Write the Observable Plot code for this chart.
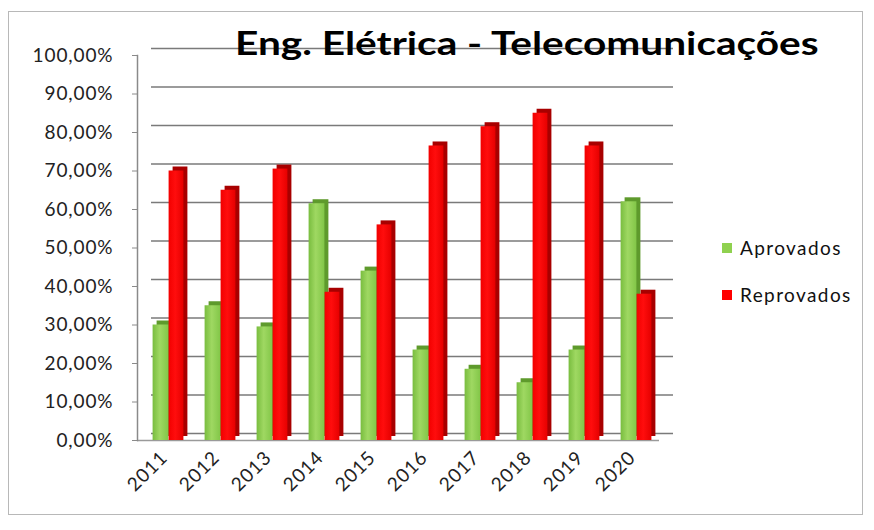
<!DOCTYPE html>
<html>
<head>
<meta charset="utf-8">
<script src="https://cdn.jsdelivr.net/npm/d3@7"></script>
<script src="https://cdn.jsdelivr.net/npm/@observablehq/plot@0.6"></script>
<style>
  html, body { margin: 0; padding: 0; background: #fff; }
  #wrap { position: relative; width: 874px; height: 530px; font-family: Lato, "Open Sans", sans-serif; }
  #border { position: absolute; left: 8px; top: 11px; width: 855px; height: 504px; border: 1.5px solid #b8b8b8; box-sizing: border-box; pointer-events: none; }
  #title { position: absolute; left: 235px; top: 22px; font-size: 33px; font-weight: 700; color: #000; white-space: nowrap; transform: scaleX(1.23); transform-origin: 0 0; }
  .leg { position: absolute; left: 722px; font-size: 19px; color: #111; display: flex; align-items: center; white-space: nowrap; letter-spacing: 1.4px; }
  .sw { width: 10px; height: 10px; margin-right: 8px; }
  #chart { position: absolute; left: 0; top: 0; }
  #chart svg text { letter-spacing: 0.9px; }
</style>
</head>
<body>
<div id="wrap">
  <div id="chart"></div>
  <div id="border"></div>
  <div id="title">Eng. Elétrica - Telecomunicações</div>
  <div id="legend"></div>
</div>
<script>
const years = ["2011","2012","2013","2014","2015","2016","2017","2018","2019","2020"];
const aprovados = [30, 35, 29.5, 61.5, 44, 23.5, 18.5, 15, 23.5, 62];
const reprovados = [70, 65, 70.5, 38.5, 56, 76.5, 81.5, 85, 76.5, 38];
const seriesNames = ["Aprovados", "Reprovados"];
const seriesColors = ["#8fd14f", "#ff0000"];
const yTicks = [0,10,20,30,40,50,60,70,80,90,100];

const rowsA = years.map((y, i) => ({year: y, value: aprovados[i]}));
const rowsR = years.map((y, i) => ({year: y, value: reprovados[i]}));
const fmt = d => d.toFixed(2).replace(".", ",") + "%";

const plot = Plot.plot({
  width: 874,
  height: 530,
  marginLeft: 143,
  marginRight: 209,
  marginTop: 55,
  marginBottom: 90,
  style: {fontFamily: "Lato, 'Open Sans', sans-serif", fontSize: "19px", color: "#111", background: "transparent"},
  x: {domain: years, padding: 0, label: null},
  y: {domain: [0, 100], label: null},
  marks: [
    // back-wall gridlines
    Plot.ruleY(yTicks, {dx: 8, dy: -7, stroke: "#7a7a7a", strokeWidth: 1.5}),
    // floor front edge
    Plot.ruleY([0], {dx: -6, stroke: "#9a9a9a", strokeWidth: 1.5}),
    // left axis line
    Plot.frame({anchor: "left", dx: -6, stroke: "#8a8a8a", strokeWidth: 1.5}),
    // green bars: depth then face
    Plot.barY(rowsA, {x: "year", y: "value", insetLeft: 8.6, insetRight: 27.6, dx: 4, dy: -4, fill: "#5e9a2c"}),
    Plot.barY(rowsA, {x: "year", y: "value", insetLeft: 8.6, insetRight: 27.6, fill: "url(#gGreen)"}),
    // red bars: depth then face
    Plot.barY(rowsR, {x: "year", y: "value", insetLeft: 24.6, insetRight: 12.6, dx: 4, dy: -4, fill: "#a80000"}),
    Plot.barY(rowsR, {x: "year", y: "value", insetLeft: 24.6, insetRight: 12.6, fill: "url(#gRed)"}),
    Plot.axisY({ticks: yTicks, tickFormat: fmt, tickSize: 0, tickPadding: 30, fontSize: 19, fill: "#222"}),
    Plot.axisY({ticks: yTicks, tickFormat: () => "", tickSize: 5, dx: -6, stroke: "#8a8a8a"}),
    Plot.axisX({tickRotate: -45, tickSize: 0, tickPadding: 14, dx: -6, fontSize: 19, fill: "#222"})
  ]
});

// gradients for a glossy Excel-like look
const ns = "http://www.w3.org/2000/svg";
const defs = document.createElementNS(ns, "defs");
defs.innerHTML = `
  <linearGradient id="gGreen" x1="0" x2="1" y1="0" y2="0">
    <stop offset="0" stop-color="#79bd3f"/>
    <stop offset="0.45" stop-color="#9fd862"/>
    <stop offset="1" stop-color="#82c648"/>
  </linearGradient>
  <linearGradient id="gRed" x1="0" x2="1" y1="0" y2="0">
    <stop offset="0" stop-color="#f20000"/>
    <stop offset="0.45" stop-color="#ff0d0d"/>
    <stop offset="1" stop-color="#e60000"/>
  </linearGradient>`;
plot.insertBefore(defs, plot.firstChild);
document.getElementById("chart").appendChild(plot);

// legend
const legend = document.getElementById("legend");
seriesNames.forEach((name, i) => {
  const d = document.createElement("div");
  d.className = "leg";
  d.style.top = (236 + i * 47) + "px";
  d.innerHTML = `<span class="sw" style="background:${seriesColors[i]}"></span>${name}`;
  legend.appendChild(d);
});
</script>
</body>
</html>
